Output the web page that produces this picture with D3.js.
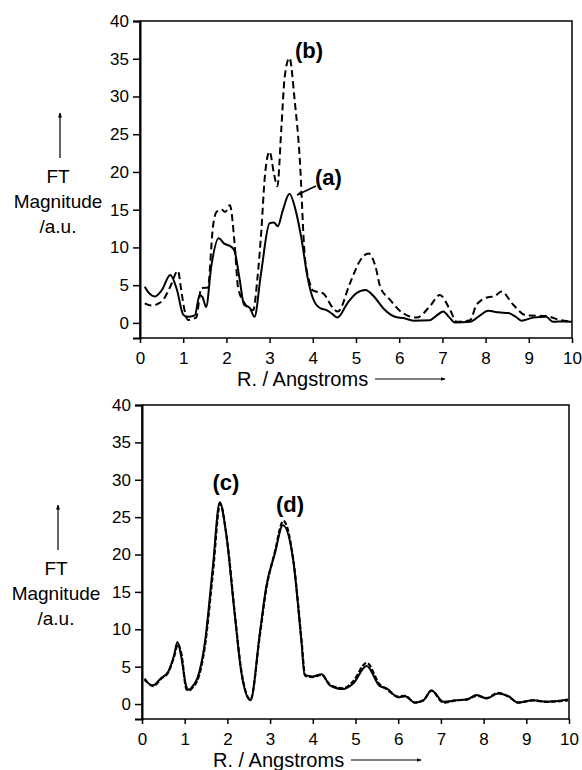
<!DOCTYPE html>
<meta charset="utf-8">
<script src="https://d3js.org/d3.v7.min.js"></script>
<style>
  body { margin: 0; background: #fff; }
  svg text { font-family: "Liberation Sans", Arial, sans-serif; fill: #000; }
  .tick text { font-size: 17px; }
  .lbl { font-size: 19px; }
  .xt { font-size: 20px; }
  .ann { font-size: 22px; font-weight: bold; }
</style>
<body>
<div id="chart"></div>
<script>

// tick labels
var yTicks = [0, 5, 10, 15, 20, 25, 30, 35, 40];
var xTicks = [0, 1, 2, 3, 4, 5, 6, 7, 8, 9, 10];

// top panel: (a) solid, (b) dashed
var rA = [0.11, 0.2, 0.34, 0.5, 0.7, 0.85, 1.0, 1.1, 1.27, 1.38, 1.45, 1.53, 1.65, 1.82, 1.95, 2.11, 2.19, 2.3, 2.41, 2.54, 2.65, 2.8, 3.0, 3.1, 3.19, 3.3, 3.46, 3.6, 3.73, 3.89, 4.0, 4.17, 4.32, 4.45, 4.57, 4.8, 5.0, 5.22, 5.4, 5.63, 5.8, 5.94, 6.1, 6.33, 6.71, 6.85, 7.02, 7.15, 7.29, 7.64, 7.85, 8.06, 8.3, 8.53, 8.7, 8.83, 9.1, 9.4, 9.56, 9.8, 10];
var magA = [4.8, 4.0, 3.5, 4.3, 6.35, 4.5, 1.1, 0.8, 1.0, 3.7, 3.4, 2.1, 7.5, 11.2, 10.5, 10.1, 9.5, 6.0, 2.4, 2.0, 0.8, 6.5, 13.2, 13.3, 12.8, 14.8, 17.1, 15.0, 11.4, 5.7, 3.3, 1.95, 1.7, 1.2, 0.7, 2.6, 3.9, 4.37, 3.6, 1.95, 1.1, 0.75, 0.65, 0.3, 0.35, 0.9, 1.5, 0.8, 0.05, 0.15, 0.9, 1.6, 1.4, 1.3, 0.8, 0.3, 0.7, 0.8, 0.15, 0.2, 0.15];

var rB = [0.11, 0.26, 0.4, 0.53, 0.7, 0.88, 0.95, 1.03, 1.11, 1.3, 1.42, 1.57, 1.69, 1.77, 1.89, 1.97, 2.08, 2.19, 2.27, 2.42, 2.62, 2.72, 2.81, 2.89, 3.0, 3.1, 3.18, 3.27, 3.35, 3.46, 3.58, 3.7, 3.81, 3.93, 4.0, 4.24, 4.47, 4.58, 4.86, 5.1, 5.29, 5.45, 5.56, 5.79, 6.06, 6.4, 6.71, 6.94, 7.18, 7.33, 7.64, 7.79, 8.06, 8.2, 8.37, 8.64, 8.94, 9.4, 9.71, 10];
var magB = [2.6, 2.3, 2.5, 3.0, 4.8, 6.9, 4.5, 1.7, 0.4, 0.7, 4.6, 4.7, 12.8, 14.7, 15.0, 14.7, 15.6, 10.5, 4.7, 2.6, 1.7, 6.0, 12.3, 19.4, 22.7, 19.8, 18.1, 25.6, 32.6, 35.1, 29.5, 21.6, 9.2, 5.3, 4.3, 3.9, 1.95, 1.5, 5.25, 8.3, 9.2, 7.5, 4.8, 3.05, 1.4, 0.7, 2.2, 3.7, 1.7, 0.15, 0.35, 2.4, 3.4, 3.5, 4.15, 2.4, 1.0, 0.9, 0.4, 0.15];

// bottom panel: (c) solid, (d) dashed
var rC = [0.06, 0.26, 0.45, 0.61, 0.75, 0.83, 0.92, 1.04, 1.1, 1.2, 1.3, 1.47, 1.66, 1.82, 1.97, 2.17, 2.33, 2.54, 2.76, 2.91, 3.11, 3.3, 3.54, 3.73, 3.81, 4.0, 4.21, 4.4, 4.71, 4.94, 5.26, 5.57, 5.73, 6.0, 6.16, 6.39, 6.59, 6.78, 7.06, 7.37, 7.6, 7.84, 8.07, 8.34, 8.58, 8.81, 9.16, 9.47, 9.98];
var magC = [3.2, 2.5, 3.5, 4.3, 6.5, 8.3, 6.3, 2.3, 1.9, 2.5, 3.5, 8.1, 18.4, 27.0, 22.8, 12.1, 4.1, 0.5, 9.5, 15.7, 20.1, 23.9, 19.3, 8.6, 3.9, 3.7, 4.0, 2.5, 2.0, 2.7, 5.1, 2.4, 2.1, 0.9, 1.05, 0.2, 0.5, 1.8, 0.3, 0.5, 0.6, 1.2, 0.75, 1.4, 1.05, 0.2, 0.5, 0.3, 0.6];

var rD = [0.06, 0.26, 0.45, 0.61, 0.75, 0.84, 0.92, 1.04, 1.1, 1.2, 1.3, 1.47, 1.66, 1.83, 1.98, 2.17, 2.33, 2.54, 2.76, 2.91, 3.11, 3.31, 3.55, 3.74, 3.82, 4.0, 4.21, 4.4, 4.71, 4.94, 5.26, 5.57, 5.73, 6.0, 6.16, 6.39, 6.59, 6.78, 7.06, 7.37, 7.6, 7.84, 8.07, 8.34, 8.58, 8.81, 9.16, 9.47, 9.98];
var magD = [3.4, 2.4, 3.4, 4.2, 6.3, 8.0, 6.8, 2.0, 1.8, 2.3, 3.2, 7.6, 17.5, 26.8, 22.5, 12.3, 4.3, 0.6, 9.2, 15.4, 20.3, 24.5, 19.0, 8.3, 3.8, 3.6, 3.9, 2.6, 2.1, 3.0, 5.5, 2.6, 2.0, 1.0, 1.1, 0.2, 0.5, 1.8, 0.2, 0.5, 0.6, 1.1, 0.8, 1.5, 1.0, 0.2, 0.5, 0.3, 0.5];

var svg = d3.select("#chart")
  .append("svg")
    .attr("width", 582)
    .attr("height", 770);

svg.append("defs").append("marker")
    .attr("id", "head")
    .attr("viewBox", "0 0 10 10")
    .attr("refX", 9).attr("refY", 5)
    .attr("markerWidth", 5).attr("markerHeight", 5)
    .attr("markerUnits", "userSpaceOnUse")
    .attr("orient", "auto")
  .append("path")
    .attr("d", "M0,1L10,5L0,9Z")
    .attr("fill", "#000");

function zip(xs, ys) {
  return xs.map(function(d, i) { return [d, ys[i]]; });
}

function panel(p) {
  var x = d3.scaleLinear().domain([0, 10]).range([p.left, p.right]);
  var y = d3.scaleLinear().domain([-2, 40]).range([p.bottom, p.top]);
  var g = svg.append("g");

  var line = d3.line()
    .x(function(d) { return x(d[0]); })
    .y(function(d) { return y(d[1]); })
    .curve(d3.curveMonotoneX);

  g.append("path")
    .attr("d", line(p.dashed))
    .attr("fill", "none")
    .attr("stroke", "#000")
    .attr("stroke-width", p.dashW)
    .attr("stroke-dasharray", p.dash);

  g.append("path")
    .attr("d", line(p.solid))
    .attr("fill", "none")
    .attr("stroke", "#000")
    .attr("stroke-width", 2);

  // frame
  g.append("rect")
    .attr("x", x(0)).attr("y", y(40))
    .attr("width", x(10) - x(0)).attr("height", y(-2) - y(40))
    .attr("fill", "none").attr("stroke", "#000").attr("stroke-width", 1.5);

  var ya = g.append("g")
    .attr("transform", "translate(" + x(0) + ",0)")
    .call(d3.axisLeft(y).tickValues(yTicks).tickSize(7).tickPadding(4));
  ya.select(".domain").attr("stroke-width", 2);
  ya.selectAll(".tick line").attr("stroke-width", 1.5);

  var xa = g.append("g")
    .attr("transform", "translate(0," + y(-2) + ")")
    .call(d3.axisBottom(x).tickValues(xTicks).tickSize(5).tickPadding(9));
  xa.select(".domain").remove();
  xa.selectAll(".tick line").attr("stroke-width", 1.5);

  // x title with arrow
  var base = y(-2) + 48;
  g.append("text").attr("class", "xt")
    .attr("x", p.titleX).attr("y", base)
    .text("R. / Angstroms");
  g.append("line")
    .attr("x1", p.titleX + 138).attr("x2", p.titleX + 208)
    .attr("y1", base - 7).attr("y2", base - 7)
    .attr("stroke", "#000").attr("stroke-width", 1)
    .attr("marker-end", "url(#head)");

  // y title with arrow
  g.append("line")
    .attr("x1", p.yLabX + 2).attr("x2", p.yLabX + 2)
    .attr("y1", p.yLabTop - 25).attr("y2", p.yLabTop - 70)
    .attr("stroke", "#000").attr("stroke-width", 1.2)
    .attr("marker-end", "url(#head)");
  ["FT", "Magnitude", "/a.u."].forEach(function(t, i) {
    g.append("text").attr("class", "lbl")
      .attr("x", p.yLabX).attr("y", p.yLabTop + i * 25)
      .attr("text-anchor", "middle")
      .text(t);
  });

  p.notes.forEach(function(n) {
    g.append("text").attr("class", "ann")
      .attr("x", n.x).attr("y", n.y)
      .attr("text-anchor", n.anchor || "middle")
      .text(n.t);
  });
  if (p.pointer) {
    g.append("line")
      .attr("x1", p.pointer[0]).attr("y1", p.pointer[1])
      .attr("x2", p.pointer[2]).attr("y2", p.pointer[3])
      .attr("stroke", "#000").attr("stroke-width", 1.5)
      .attr("marker-end", "url(#head)");
  }
}

panel({
  left: 140, right: 572, top: 21, bottom: 338,
  solid: zip(rA, magA), dashed: zip(rB, magB),
  dash: "7,4", dashW: 2,
  titleX: 237, yLabX: 58, yLabTop: 183,
  notes: [{t: "(b)", x: 309, y: 58}, {t: "(a)", x: 315, y: 185, anchor: "start"}],
  pointer: [316, 186, 297, 195]
});

panel({
  left: 142, right: 569, top: 405, bottom: 719,
  solid: zip(rC, magC), dashed: zip(rD, magD),
  dash: "5,2", dashW: 2.2,
  titleX: 213, yLabX: 56, yLabTop: 575,
  notes: [{t: "(c)", x: 226, y: 490}, {t: "(d)", x: 290, y: 512}]
});

</script>
</body>
